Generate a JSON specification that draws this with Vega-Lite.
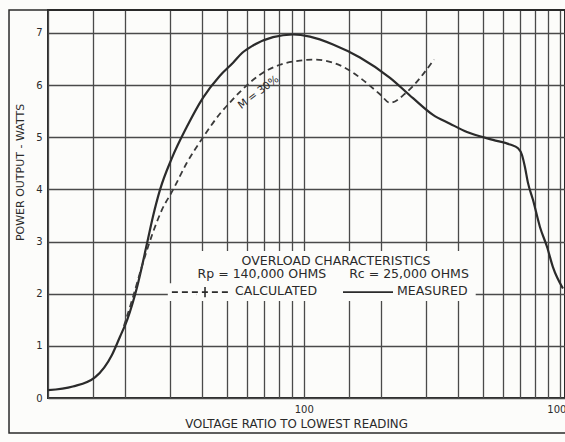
{
  "$schema": "https://vega.github.io/schema/vega-lite/v6.json",
  "width": 517,
  "height": 388,
  "autosize": {"type": "none"},
  "padding": {"left": 48, "top": 10, "right": 0, "bottom": 44},
  "background": "#fcfcfa",
  "config": {
    "view": {"stroke": "#2a2a2a", "strokeWidth": 2},
    "font": "DejaVu Sans",
    "axis": {
      "grid": true,
      "gridColor": "#4a4a4a",
      "gridWidth": 1.3,
      "gridOpacity": 1,
      "domain": false,
      "ticks": false,
      "labelFont": "DejaVu Sans",
      "labelFontSize": 10,
      "labelColor": "#2a2a2a",
      "titleFont": "DejaVu Sans",
      "titleFontSize": 11,
      "titleFontWeight": "normal",
      "titleColor": "#2a2a2a"
    }
  },
  "datasets": {
    "measured": [
      {"x": 10.0, "y": 0.15}, {"x": 12.5, "y": 0.22}, {"x": 15.3, "y": 0.4}, {"x": 17.8, "y": 0.83},
      {"x": 19.1, "y": 1.17}, {"x": 20.4, "y": 1.5}, {"x": 22.3, "y": 2.13}, {"x": 24.4, "y": 2.97},
      {"x": 25.7, "y": 3.47}, {"x": 27.4, "y": 3.99}, {"x": 30.5, "y": 4.6}, {"x": 34.9, "y": 5.2},
      {"x": 40.4, "y": 5.76}, {"x": 47.0, "y": 6.18}, {"x": 52.9, "y": 6.43}, {"x": 57.5, "y": 6.62},
      {"x": 63.3, "y": 6.76},
      {"x": 75.8, "y": 6.92}, {"x": 90.7, "y": 6.97}, {"x": 105.7, "y": 6.93}, {"x": 130.1, "y": 6.78},
      {"x": 165.8, "y": 6.53}, {"x": 217.3, "y": 6.14}, {"x": 267.3, "y": 5.75}, {"x": 320, "y": 5.43},
      {"x": 372.9, "y": 5.26}, {"x": 434.5, "y": 5.1}, {"x": 549, "y": 4.95}, {"x": 640, "y": 4.86},
      {"x": 688, "y": 4.79}, {"x": 713, "y": 4.66}, {"x": 732, "y": 4.43}, {"x": 752, "y": 4.13},
      {"x": 787, "y": 3.8}, {"x": 838, "y": 3.28}, {"x": 893, "y": 2.9}, {"x": 942, "y": 2.51},
      {"x": 1031, "y": 2.1}
    ],
    "calculated": [
      {"x": 19.8, "y": 1.38}, {"x": 21.5, "y": 1.94}, {"x": 23.5, "y": 2.59}, {"x": 25.7, "y": 3.17},
      {"x": 27.9, "y": 3.61}, {"x": 30.8, "y": 3.99}, {"x": 34.9, "y": 4.51}, {"x": 40.4, "y": 5.0},
      {"x": 47.0, "y": 5.45}, {"x": 51.5, "y": 5.67}, {"x": 56.3, "y": 5.87}, {"x": 67.4, "y": 6.2},
      {"x": 80.7, "y": 6.39},
      {"x": 96.6, "y": 6.47}, {"x": 108.6, "y": 6.49}, {"x": 130.1, "y": 6.43}, {"x": 155.7, "y": 6.24},
      {"x": 170, "y": 6.1}, {"x": 199, "y": 5.82}, {"x": 217.3, "y": 5.66}, {"x": 253.2, "y": 5.87},
      {"x": 323, "y": 6.49}
    ],
    "boxes": [
      {"x": 38.0, "x2": 470, "y": 2.82, "y2": 1.86},
      {"x": 29.4, "x2": 38.0, "y": 2.2, "y2": 1.86}
    ],
    "frame": [{"x": 7.04, "x2": 3000, "y": -0.67, "y2": 7.44}],
    "samples": [
      {"x": 30.5, "x2": 51.4, "y": 2.03, "series": "calculated"},
      {"x": 142.3, "x2": 223.3, "y": 2.03, "series": "measured"}
    ],
    "tick": [{"x": 41.1, "y": 1.93, "y2": 2.13}],
    "labelsCenter": [
      {"text": "OVERLOAD CHARACTERISTICS", "x": 133.6, "y": 2.63},
      {"text": "Rp = 140,000 OHMS", "x": 68.6, "y": 2.38},
      {"text": "Rc = 25,000 OHMS", "x": 257.8, "y": 2.38}
    ],
    "labelsLeft": [
      {"text": "CALCULATED", "x": 53.8, "y": 2.05},
      {"text": "MEASURED", "x": 231.4, "y": 2.05}
    ],
    "note": [{"text": "M = 30%", "x": 66.5, "y": 5.86}]
  },
  "layer": [
    {
      "data": {"name": "frame"},
      "mark": {"type": "rect", "filled": false, "stroke": "#2a2a2a", "strokeWidth": 1.5, "clip": false},
      "encoding": {
        "x": {"field": "x", "type": "quantitative", "scale": {"type": "log", "domain": [10, 1050], "nice": false},
          "axis": {
            "values": [10, 15, 20, 30, 40, 50, 60, 70, 80, 90, 100, 150, 200, 300, 400, 500, 600, 700, 800, 900, 1000],
            "labelExpr": "datum.value == 100 ? '100' : (datum.value == 1000 ? '1000' : '')",
            "labelPadding": 6,
            "labelFlush": false,
            "labelOverlap": false,
            "title": "VOLTAGE RATIO TO LOWEST READING",
            "titleX": 248,
            "titleY": 25,
            "titleAlign": "center",
            "titleBaseline": "middle",
            "titleFontSize": 11.8
          }},
        "x2": {"field": "x2"},
        "y": {"field": "y", "type": "quantitative", "scale": {"domain": [0, 7.44], "nice": false, "zero": false},
          "axis": {
            "values": [0, 0.5, 1, 1.5, 2, 2.5, 3, 3.5, 4, 4.5, 5, 5.5, 6, 6.5, 7],
            "labelExpr": "datum.value % 1 == 0 ? datum.label : ''",
            "labelPadding": 6,
            "labelOverlap": false,
            "title": "POWER OUTPUT - WATTS",
            "titleX": -28,
            "titleY": 162,
            "titleAlign": "center",
            "titleBaseline": "middle"
          }},
        "y2": {"field": "y2"}
      }
    },
    {
      "data": {"name": "boxes"},
      "mark": {"type": "rect", "fill": "#fcfcfa", "stroke": null},
      "encoding": {
        "x": {"field": "x", "type": "quantitative"},
        "x2": {"field": "x2"},
        "y": {"field": "y", "type": "quantitative"},
        "y2": {"field": "y2"}
      }
    },
    {
      "data": {"name": "measured"},
      "mark": {"type": "line", "interpolate": "monotone", "color": "#2b2b2b", "strokeWidth": 2.2},
      "encoding": {
        "x": {"field": "x", "type": "quantitative"},
        "y": {"field": "y", "type": "quantitative"}
      }
    },
    {
      "data": {"name": "calculated"},
      "mark": {"type": "line", "interpolate": "monotone", "color": "#3a3a3a", "strokeWidth": 1.8, "strokeDash": [6, 4]},
      "encoding": {
        "x": {"field": "x", "type": "quantitative"},
        "y": {"field": "y", "type": "quantitative"}
      }
    },
    {
      "data": {"name": "samples"},
      "mark": {"type": "rule", "color": "#2b2b2b", "strokeWidth": 1.8},
      "encoding": {
        "x": {"field": "x", "type": "quantitative"},
        "x2": {"field": "x2"},
        "y": {"field": "y", "type": "quantitative"},
        "strokeDash": {"field": "series", "type": "nominal", "scale": {"domain": ["calculated", "measured"], "range": [[6, 4], [1, 0]]}, "legend": null}
      }
    },
    {
      "data": {"name": "tick"},
      "mark": {"type": "rule", "color": "#2b2b2b", "strokeWidth": 1.6},
      "encoding": {
        "x": {"field": "x", "type": "quantitative"},
        "y": {"field": "y", "type": "quantitative"},
        "y2": {"field": "y2"}
      }
    },
    {
      "data": {"name": "labelsCenter"},
      "mark": {"type": "text", "font": "DejaVu Sans", "fontSize": 12.5, "color": "#2a2a2a", "align": "center", "baseline": "middle"},
      "encoding": {
        "x": {"field": "x", "type": "quantitative"},
        "y": {"field": "y", "type": "quantitative"},
        "text": {"field": "text"}
      }
    },
    {
      "data": {"name": "labelsLeft"},
      "mark": {"type": "text", "font": "DejaVu Sans", "fontSize": 12.5, "color": "#2a2a2a", "align": "left", "baseline": "middle"},
      "encoding": {
        "x": {"field": "x", "type": "quantitative"},
        "y": {"field": "y", "type": "quantitative"},
        "text": {"field": "text"}
      }
    },
    {
      "data": {"name": "note"},
      "mark": {"type": "text", "font": "DejaVu Sans", "fontSize": 10.5, "color": "#2a2a2a", "angle": 323, "align": "center", "baseline": "middle"},
      "encoding": {
        "x": {"field": "x", "type": "quantitative"},
        "y": {"field": "y", "type": "quantitative"},
        "text": {"field": "text"}
      }
    }
  ]
}
